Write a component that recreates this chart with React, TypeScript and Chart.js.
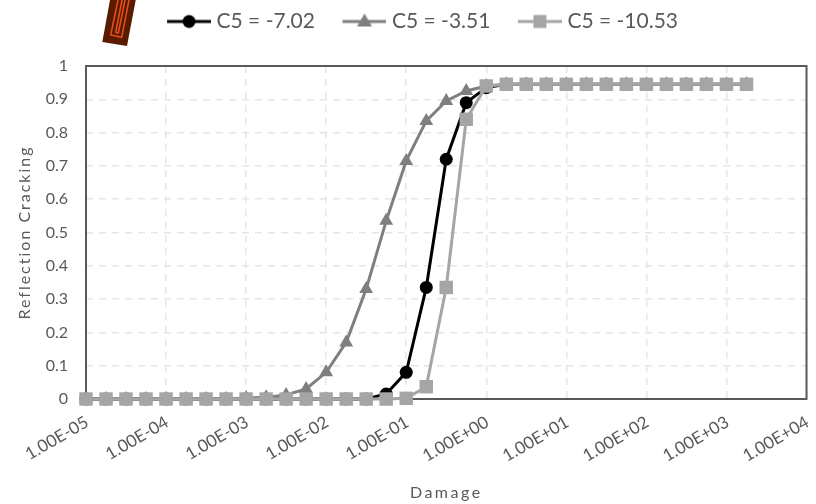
import React, { useEffect, useRef } from "react";
import { Chart, registerables } from "chart.js";

Chart.register(...registerables);

const damage = [
  1e-5, 1.78e-5, 3.16e-5, 5.62e-5, 1e-4, 1.78e-4, 3.16e-4, 5.62e-4, 1e-3, 1.78e-3, 3.16e-3, 5.62e-3,
  1e-2, 1.78e-2, 3.16e-2, 5.62e-2, 1e-1, 1.78e-1, 3.16e-1, 5.62e-1, 1, 1.78, 3.16, 5.62,
  10, 17.8, 31.6, 56.2, 100, 178, 316, 562, 1000, 1780,
];
const c5m702 = [
  0, 0, 0, 0, 0, 0, 0, 0, 0, 0, 0, 0, 0, 0, 0, 0.015, 0.08, 0.335, 0.72, 0.89,
  0.935, 0.945, 0.945, 0.945, 0.945, 0.945, 0.945, 0.945, 0.945, 0.945, 0.945, 0.945, 0.945, 0.945,
];
const c5m351 = [
  0, 0, 0, 0, 0, 0, 0, 0, 0.003, 0.005, 0.012, 0.03, 0.08, 0.17, 0.33, 0.535, 0.715, 0.835, 0.895, 0.925,
  0.94, 0.945, 0.945, 0.945, 0.945, 0.945, 0.945, 0.945, 0.945, 0.945, 0.945, 0.945, 0.945, 0.945,
];
const c5m1053 = [
  0, 0, 0, 0, 0, 0, 0, 0, 0, 0, 0, 0, 0, 0, 0, 0, 0.002, 0.037, 0.335, 0.84,
  0.94, 0.945, 0.945, 0.945, 0.945, 0.945, 0.945, 0.945, 0.945, 0.945, 0.945, 0.945, 0.945, 0.945,
];
const xTicks = [1e-5, 1e-4, 1e-3, 1e-2, 1e-1, 1, 10, 100, 1000, 10000];
const xTickLabels = ["1.00E-05", "1.00E-04", "1.00E-03", "1.00E-02", "1.00E-01", "1.00E+00", "1.00E+01", "1.00E+02", "1.00E+03", "1.00E+04"];
const yTickLabels = ["0", "0.1", "0.2", "0.3", "0.4", "0.5", "0.6", "0.7", "0.8", "0.9", "1"];
const seriesNames = ["C5 = -7.02", "C5 = -3.51", "C5 = -10.53"];

const FONT = "Lato, Carlito, sans-serif";
const TEXT = "#595959";
const PAD = 22;

function legendSwatch(color: string, style: string): HTMLCanvasElement {
  const c = document.createElement("canvas");
  c.width = 44 + PAD;
  c.height = 20;
  const x = c.getContext("2d")!;
  x.translate(PAD, 0);
  x.strokeStyle = color;
  x.fillStyle = color;
  x.lineWidth = 3;
  x.beginPath();
  x.moveTo(0, 10);
  x.lineTo(44, 10);
  x.stroke();
  x.beginPath();
  if (style === "circle") x.arc(22, 10, 6.5, 0, Math.PI * 2);
  if (style === "triangle") {
    x.moveTo(22, 2);
    x.lineTo(29.5, 15);
    x.lineTo(14.5, 15);
    x.closePath();
  }
  if (style === "rect") x.rect(15.5, 3.5, 13, 13);
  x.fill();
  return c;
}

const framePlugin = {
  id: "frame",
  beforeDraw(chart: any) {
    const { ctx, legend } = chart;
    // move the legend row to where it sits in the reference
    if (legend && !legend._shifted) {
      legend.left += 10;
      legend.right += 10;
      legend.top -= 24;
      legend.bottom -= 24;
      legend._shifted = true;
    }
    // the small brown inset at the top left of the picture
    ctx.save();
    ctx.fillStyle = "#5a1a00";
    ctx.beginPath();
    ctx.moveTo(110, 0);
    ctx.lineTo(135.7, 0);
    ctx.lineTo(127, 46);
    ctx.lineTo(102.3, 42);
    ctx.closePath();
    ctx.fill();
    ctx.strokeStyle = "#e8501a";
    ctx.lineWidth = 1.5;
    ctx.beginPath();
    ctx.moveTo(118, 0);
    ctx.lineTo(110.7, 35);
    ctx.lineTo(121.7, 37.3);
    ctx.lineTo(129, 0);
    ctx.moveTo(122, 0);
    ctx.lineTo(115.7, 32.3);
    ctx.lineTo(118.3, 33);
    ctx.lineTo(125, 0);
    ctx.stroke();
    ctx.restore();
    for (const id of ["x", "y"]) {
      const s = chart.scales[id];
      if (!s._spaced) {
        const orig = s.drawTitle;
        s.drawTitle = function (area: any) {
          ctx.save();
          ctx.letterSpacing = id === "x" ? "2.5px" : "2px";
          orig.call(this, area);
          ctx.restore();
        };
        s._spaced = true;
      }
    }
  },
  beforeDatasetsDraw(chart: any) {
    const { ctx, chartArea: a } = chart;
    ctx.save();
    ctx.strokeStyle = "#595959";
    ctx.lineWidth = 2;
    ctx.strokeRect(a.left, a.top, a.right - a.left, a.bottom - a.top);
    ctx.restore();
  },
};

export default function App() {
  const ref = useRef<HTMLCanvasElement>(null);
  useEffect(() => {
    document.body.style.margin = "0";
    const make = (label: string, values: number[], color: string, pointStyle: string, radius: number, order: number) => ({
      label,
      data: damage.map((x, i) => ({ x, y: values[i] })),
      borderColor: color,
      backgroundColor: color,
      borderWidth: 3,
      pointStyle,
      pointRadius: radius,
      pointBorderWidth: 0,
      pointBackgroundColor: color,
      tension: 0,
      order,
      clip: false as const,
    });
    const styles = [
      { color: "#000000", style: "circle" },
      { color: "#7f7f7f", style: "triangle" },
      { color: "#a5a5a5", style: "rect" },
    ];
    const chart = new Chart(ref.current!, {
      type: "line",
      data: {
        datasets: [
          make(seriesNames[0], c5m702, "#000000", "circle", 6.5, 3),
          make(seriesNames[1], c5m351, "#7f7f7f", "triangle", 8, 2),
          make(seriesNames[2], c5m1053, "#a5a5a5", "rect", 9.5, 1),
        ],
      },
      options: {
        animation: false,
        responsive: false,
        layout: { padding: { left: 0, right: 8, top: 24.5, bottom: 0 } },
        plugins: {
          tooltip: { enabled: false },
          legend: {
            display: true,
            position: "top",
            labels: {
              font: { family: FONT, size: 21 },
              color: TEXT,
              usePointStyle: true,
              pointStyleWidth: 34 + PAD,
              padding: 10.5,
              boxHeight: 20,
              generateLabels: () =>
                seriesNames.map((text, i) => ({
                  text,
                  fontColor: TEXT,
                  pointStyle: legendSwatch(styles[i].color, styles[i].style),
                  datasetIndex: i,
                  hidden: false,
                  lineWidth: 0,
                  strokeStyle: "transparent",
                  fillStyle: "transparent",
                })),
            },
          },
        },
        scales: {
          x: {
            type: "logarithmic",
            min: 1e-5,
            max: 1e4,
            afterBuildTicks: (s: any) => {
              s.ticks = xTicks.map((value) => ({ value, major: true }));
            },
            afterFit: (s: any) => {
              s.height = 105;
              s.paddingLeft = 0;
              s.paddingRight = 0;
            },
            ticks: {
              autoSkip: false,
              maxRotation: 30,
              minRotation: 30,
              font: { family: FONT, size: 17 },
              color: TEXT,
              padding: 13,
              labelOffset: 1,
              callback: (_v: any, i: number) => xTickLabels[i],
            },
            grid: { color: "#e6e6e6", lineWidth: 1.5, drawTicks: false },
            border: { dash: [7, 6], display: false },
            title: { display: true, text: "Damage", font: { family: FONT, size: 16 }, color: TEXT, padding: { top: 0, bottom: 2 } },
          },
          y: {
            min: 0,
            max: 1,
            afterFit: (s: any) => {
              s.width = 86;
            },
            ticks: {
              stepSize: 0.1,
              font: { family: FONT, size: 16 },
              color: TEXT,
              padding: 18,
              callback: (_v: any, i: number) => yTickLabels[i],
            },
            grid: { color: "#e6e6e6", lineWidth: 1.5, drawTicks: false },
            border: { dash: [7, 6], display: false },
            title: { display: true, text: "Reflection Cracking", font: { family: FONT, size: 16 }, color: TEXT, padding: { top: 15, bottom: 0 } },
          },
        },
      },
      plugins: [framePlugin],
    } as any);
    return () => chart.destroy();
  }, []);
  return <canvas ref={ref} width={816} height={504} style={{ display: "block" }} />;
}
